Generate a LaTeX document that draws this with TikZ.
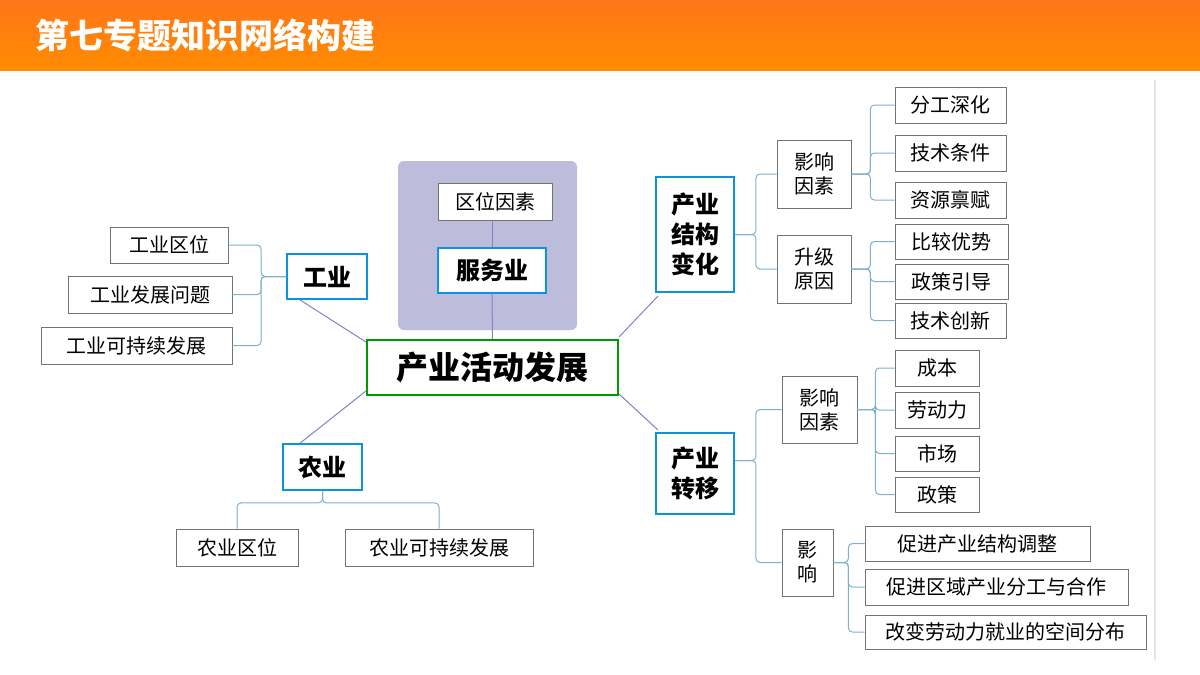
\documentclass[tikz,border=0pt]{standalone}
\usepackage{fontspec}
\setmainfont{Noto Sans CJK SC}
\begin{document}
\begin{tikzpicture}[x=1pt,y=-1pt,
 leaf/.style={draw=black!55,line width=0.8pt,fill=white,inner sep=0pt,font=\fontsize{20}{24}\selectfont},
 lvl/.style={draw=cyan!80!blue,line width=1.8pt,fill=white,inner sep=0pt,font=\fontsize{24}{30}\selectfont\bfseries,align=center},
 conn/.style={draw=blue!35!cyan!60!black!50,line width=1pt,rounded corners=4},
 cn/.style={draw=blue!40!gray!70,line width=1pt}]
\useasboundingbox (0,0) rectangle (1200,675);
\fill[white] (0,0) rectangle (1200,675);
\shade[top color=orange!80!red!90,bottom color=orange!90!yellow] (0,0) rectangle (1200,70);
\node[anchor=west,text=white,font=\fontsize{34}{40}\selectfont\bfseries] (title) at (32,35) {第七专题知识网络构建};
\draw[black!10,line width=2pt] (1155,80) -- (1155,660);
% service area
\fill[rounded corners=6,fill=blue!30!gray!40] (398,161) rectangle (577,330);
\node[leaf,minimum width=114,minimum height=37] (qw) at (495,201.5) {区位因素};
\node[lvl,minimum width=108,minimum height=45] (fw) at (492,270.5) {服务业};
\node[draw=green!60!black,line width=1.8pt,fill=white,minimum width=251,minimum height=55,inner sep=0pt,font=\fontsize{32}{38}\selectfont\bfseries] (c) at (492.5,367.5) {产业活动发展};
\draw[cn] (qw.south -| fw.north) -- (fw.north);
\draw[cn] (c.north) -- (fw.south);
% industry
\node[lvl,minimum width=80,minimum height=45] (gy) at (327,276.5) {工业};
\node[leaf,minimum width=118,minimum height=36] (g1) at (169,245) {工业区位};
\node[leaf,minimum width=164,minimum height=37] (g2) at (150,294.5) {工业发展问题};
\node[leaf,minimum width=191,minimum height=37] (g3) at (136.5,345.5) {工业可持续发展};
\foreach \n in {g1,g2,g3} \draw[conn] (gy.west) -- ++(-25,0) |- (\n.east);
\draw[cn] (c.north west) ++(0,3) -- ([xshift=-27]gy.south);
% agriculture
\node[lvl,minimum width=79,minimum height=46] (ny) at (322.5,467) {农业};
\node[leaf,minimum width=122,minimum height=37] (n1) at (237,547.5) {农业区位};
\node[leaf,minimum width=188,minimum height=37] (n2) at (439,547.5) {农业可持续发展};
\foreach \n in {n1,n2} \draw[conn] (ny.south) -- ++(0,12) -| (\n.north);
\draw[cn] (c.south west) ++(0,-5) -- ([xshift=18]ny.north west);
% structure change
\node[lvl,minimum width=78,minimum height=115] (jg) at (695,234.5) {产业\\结构\\变化};
\node[leaf,minimum width=74,minimum height=68,align=center] (y1) at (814,174) {影响\\因素};
\node[leaf,minimum width=74,minimum height=68,align=center] (s1) at (814,269) {升级\\原因};
\foreach \n in {y1,s1} \draw[conn] (jg.east) -- ++(21,0) |- (\n.west);
\node[leaf,minimum width=111,minimum height=36] (a1) at (950.5,105) {分工深化};
\node[leaf,minimum width=111,minimum height=36] (a2) at (950.5,153) {技术条件};
\node[leaf,minimum width=111,minimum height=36] (a3) at (950.5,200) {资源禀赋};
\foreach \n in {a1,a2,a3} \draw[conn] (y1.east) -- ++(19,0) |- (\n.west);
\node[leaf,minimum width=113,minimum height=35] (b1) at (951.5,241.5) {比较优势};
\node[leaf,minimum width=113,minimum height=35] (b2) at (951.5,281.5) {政策引导};
\node[leaf,minimum width=111,minimum height=35] (b3) at (950.5,320.5) {技术创新};
\foreach \n in {b1,b2,b3} \draw[conn] (s1.east) -- ++(19,0) |- (\n.west);
\draw[cn] (c.north east) ++(0,-2) -- ([xshift=3,yshift=-3]jg.south west);
% transfer
\node[lvl,minimum width=78,minimum height=81] (zy) at (695,473.5) {产业\\转移};
\node[leaf,minimum width=75,minimum height=67,align=center] (y2) at (819.5,409.5) {影响\\因素};
\node[leaf,minimum width=51,minimum height=67,align=center] (yx) at (807.5,562.5) {影\\响};
\foreach \n in {y2,yx} \draw[conn] ([yshift=13]zy.east) -- ++(21,0) |- (\n.west);
\node[leaf,minimum width=84,minimum height=36] (d1) at (937,368) {成本};
\node[leaf,minimum width=84,minimum height=36] (d2) at (937,410) {劳动力};
\node[leaf,minimum width=84,minimum height=35] (d3) at (937,453.5) {市场};
\node[leaf,minimum width=84,minimum height=35] (d4) at (937,494.5) {政策};
\foreach \n in {d1,d2,d3,d4} \draw[conn] (y2.east) -- ++(18,0) |- (\n.west);
\node[leaf,minimum width=225,minimum height=35] (e1) at (977.5,543.5) {促进产业结构调整};
\node[leaf,minimum width=263,minimum height=36] (e2) at (996.5,587) {促进区域产业分工与合作};
\node[leaf,minimum width=281,minimum height=34] (e3) at (1005.5,632) {改变劳动力就业的空间分布};
\foreach \n in {e1,e2,e3} \draw[conn] (yx.east) -- ++(15,0) |- (\n.west);
\draw[cn] (c.south east) ++(0,-2) -- ([xshift=3,yshift=2]zy.north west);
\end{tikzpicture}
\end{document}
